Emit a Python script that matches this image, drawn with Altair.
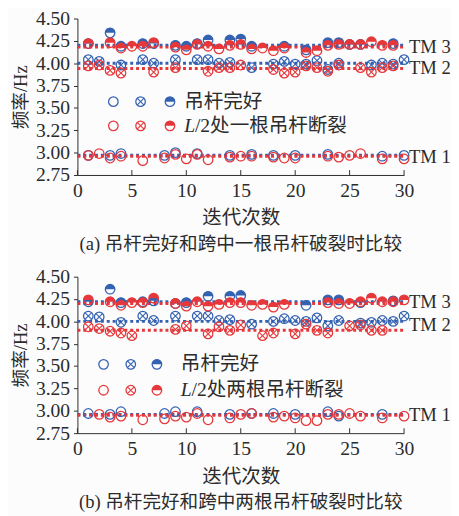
import altair as alt
import pandas as pd

BLUE = "#3462b2"
RED = "#e6373a"
INK = "#2b2b2b"
FONT = "Liberation Serif, Noto Sans CJK SC"

X_TICKS = [0, 5, 10, 15, 20, 25, 30]
Y_TICKS = [2.75, 3.00, 3.25, 3.50, 3.75, 4.00, 4.25, 4.50]
X_DOMAIN = [0, 30]
Y_DOMAIN = [2.75, 4.50]
LINE_X = [0, 30]
TM_NAMES = ["TM 1", "TM 2", "TM 3"]

# ---------------- panel (a) ----------------
a_blue_tm1_x = [1, 3, 4, 8, 9, 11, 14, 16, 18, 20, 23, 28, 30]
a_blue_tm1_y = [2.97, 2.97, 2.99, 2.97, 3.00, 2.99, 2.97, 2.98, 2.97, 2.97, 2.98, 2.96, 2.97]
a_red_tm1_x = [1, 2, 3, 4, 6, 8, 9, 10, 11, 12, 14, 15, 16, 18, 19, 20, 23, 24, 25, 26, 28, 30]
a_red_tm1_y = [2.97, 2.99, 2.94, 2.96, 2.91, 2.94, 2.98, 2.93, 2.98, 2.92, 2.95, 2.96, 2.96, 2.95,
               2.94, 2.94, 2.96, 2.95, 2.97, 2.99, 2.93, 2.93]
a_blue_tm2_x = [1, 2, 4, 6, 7, 9, 11, 12, 13, 14, 16, 18, 19, 20, 21, 22, 23, 24, 27, 28, 29, 30]
a_blue_tm2_y = [4.04, 4.02, 3.98, 4.04, 4.00, 4.04, 4.04, 4.04, 4.00, 4.01, 3.95, 3.99, 4.02, 3.99,
                3.99, 4.03, 3.93, 4.00, 3.98, 4.00, 3.99, 4.04]
a_red_tm2_x = [1, 2, 3, 4, 7, 9, 12, 13, 14, 15, 18, 19, 20, 21, 22, 23, 24, 26, 27, 28, 29]
a_red_tm2_y = [3.97, 3.98, 3.92, 3.89, 3.90, 3.95, 3.91, 3.95, 3.95, 3.98, 3.93, 3.89, 3.90, 3.97,
               3.95, 3.91, 3.98, 3.95, 3.90, 3.95, 3.97]
a_blue_tm3_x = [1, 3, 4, 6, 7, 9, 10, 11, 12, 14, 15, 16, 19, 21, 23, 24, 25, 26, 29]
a_blue_tm3_y = [4.22, 4.34, 4.19, 4.22, 4.22, 4.20, 4.19, 4.22, 4.26, 4.26, 4.27, 4.19, 4.19, 4.15,
                4.23, 4.23, 4.21, 4.21, 4.22]
a_red_tm3_x = [1, 3, 4, 5, 6, 7, 9, 10, 11, 12, 13, 14, 15, 16, 17, 18, 19, 21, 22, 23, 24, 25, 26,
               27, 28, 29]
a_red_tm3_y = [4.22, 4.23, 4.17, 4.19, 4.19, 4.23, 4.18, 4.15, 4.21, 4.19, 4.16, 4.20, 4.21, 4.16,
               4.17, 4.14, 4.17, 4.12, 4.14, 4.20, 4.21, 4.21, 4.21, 4.24, 4.20, 4.20]
a_blue_lines = [2.97, 4.00, 4.20]
a_red_lines = [2.96, 3.94, 4.18]
a_tm_label_y = [2.95, 3.95, 4.18]
a_leg_sym_x = [3.3, 5.8, 8.5]
a_leg_row_y = [3.57, 3.30]
a_leg_text_x = 9.8
a_leg_texts = ["吊杆完好", "/2处一根吊杆断裂"]
a_caption = "(a) 吊杆完好和跨中一根吊杆破裂时比较"

# ---------------- panel (b) ----------------
b_blue_tm1_x = [1, 3, 4, 8, 9, 11, 14, 16, 18, 20, 23, 24, 28]
b_blue_tm1_y = [2.97, 2.96, 2.99, 2.97, 2.99, 2.99, 2.96, 2.97, 2.97, 2.96, 2.99, 2.94, 2.96]
b_red_tm1_x = [2, 3, 4, 6, 8, 9, 10, 11, 12, 14, 15, 16, 18, 19, 20, 21, 22, 23, 24, 25, 26, 28, 30]
b_red_tm1_y = [2.96, 2.93, 2.94, 2.90, 2.91, 2.94, 2.93, 2.97, 2.90, 2.92, 2.96, 2.97, 2.93, 2.94,
               2.92, 2.89, 2.89, 2.96, 2.96, 2.97, 2.94, 2.92, 2.94]
b_blue_tm2_x = [1, 2, 4, 6, 7, 9, 11, 12, 13, 14, 16, 18, 19, 20, 21, 22, 23, 24, 26, 27, 28, 29, 30]
b_blue_tm2_y = [4.06, 4.05, 3.99, 4.06, 4.01, 4.06, 4.06, 4.06, 4.01, 4.02, 3.97, 4.00, 4.03, 4.01,
                4.00, 4.04, 3.95, 4.01, 3.98, 3.99, 4.01, 4.00, 4.06]
b_red_tm2_x = [1, 2, 3, 4, 5, 9, 10, 12, 13, 14, 15, 17, 18, 20, 21, 22, 23, 25, 26, 27, 28]
b_red_tm2_y = [3.94, 3.92, 3.89, 3.87, 3.84, 3.91, 3.95, 3.86, 3.94, 3.90, 3.96, 3.84, 3.87, 3.86,
               3.97, 3.90, 3.87, 3.95, 3.96, 3.90, 3.90]
b_blue_tm3_x = [1, 3, 4, 6, 7, 9, 10, 12, 14, 15, 21, 23, 24, 26, 29]
b_blue_tm3_y = [4.22, 4.36, 4.21, 4.22, 4.23, 4.20, 4.21, 4.28, 4.28, 4.29, 4.18, 4.24, 4.24, 4.21,
                4.23]
b_red_tm3_x = [1, 3, 4, 5, 6, 7, 9, 10, 11, 12, 13, 14, 15, 16, 17, 18, 19, 23, 24, 25, 26, 27, 28,
               29, 30]
b_red_tm3_y = [4.24, 4.22, 4.18, 4.21, 4.21, 4.26, 4.20, 4.17, 4.22, 4.17, 4.19, 4.21, 4.21, 4.18,
               4.19, 4.16, 4.19, 4.21, 4.20, 4.20, 4.22, 4.26, 4.22, 4.22, 4.24]
b_blue_lines = [2.96, 4.00, 4.22]
b_red_lines = [2.95, 3.90, 4.20]
b_tm_label_y = [2.95, 3.96, 4.21]
b_leg_sym_x = [2.4, 4.9, 7.3]
b_leg_row_y = [3.52, 3.23]
b_leg_text_x = 9.5
b_leg_texts = ["吊杆完好", "/2处两根吊杆断裂"]
b_caption = "(b) 吊杆完好和跨中两根吊杆破裂时比较"

W, H = 334, 160
SIZE = 95
CROSS = "M -0.72 -0.72 L 0.72 0.72 M -0.72 0.72 L 0.72 -0.72"
TOPHALF = "M -1 0 A 1 1 0 0 1 1 0 Z"


def enc_x():
    return alt.X("x:Q", scale=alt.Scale(domain=X_DOMAIN, nice=False, zero=False),
                 axis=alt.Axis(values=X_TICKS, title="迭代次数", ticks=False, grid=False,
                               labelPadding=6, titlePadding=8, labelFontSize=20,
                               titleFontSize=20, labelFont=FONT, titleFont=FONT,
                               titleFontWeight="normal", labelColor=INK, titleColor=INK,
                               domainColor=INK, labelFlush=False))


def enc_y():
    return alt.Y("y:Q", scale=alt.Scale(domain=Y_DOMAIN, nice=False, zero=False),
                 axis=alt.Axis(values=Y_TICKS, format=".2f", title="频率/Hz", tickSize=4,
                               tickColor=INK, grid=False, labelPadding=4, titlePadding=5,
                               labelFontSize=20, titleFontSize=19, labelFont=FONT,
                               titleFont=FONT, titleFontWeight="normal", labelColor=INK,
                               titleColor=INK, domainColor=INK, labelFlush=False))


def markers(xs, ys, color, kind):
    df = pd.DataFrame({"x": xs, "y": ys})
    base = alt.Chart(df)
    layers = [base.mark_point(shape="circle", filled=False, size=SIZE, strokeWidth=1.3,
                              color=color, opacity=1).encode(x=enc_x(), y=enc_y())]
    if kind == "cross":
        layers.append(base.mark_point(shape=CROSS, filled=False, size=SIZE, strokeWidth=1.1,
                                      color=color, opacity=1).encode(x=enc_x(), y=enc_y()))
    if kind == "half":
        layers.append(base.mark_point(shape=TOPHALF, filled=True, size=SIZE, strokeWidth=0,
                                      color=color, opacity=1).encode(x=enc_x(), y=enc_y()))
    return layers


def panel(series, blue_lines, red_lines, tm_y, leg_x, leg_y, leg_tx, leg_texts, caption):
    layers = []
    for vals, col in ((blue_lines, BLUE), (red_lines, RED)):
        ldf = pd.DataFrame({"x": [LINE_X[0]] * 3, "x2": [LINE_X[1]] * 3, "y": vals})
        layers.append(alt.Chart(ldf).mark_rule(color=col, strokeWidth=3, strokeDash=[3, 3])
                      .encode(x=enc_x(), x2="x2:Q", y=enc_y()))
    tdf = pd.DataFrame({"x": X_TICKS})
    layers.append(alt.Chart(tdf).mark_rule(color=INK, strokeWidth=1)
                  .encode(x=enc_x(), y=alt.value(H), y2=alt.value(H - 5)))
    for xs, ys, col, kind in series:
        layers += markers(xs, ys, col, kind)
    kinds = ["open", "cross", "half"]
    for row, col in enumerate((BLUE, RED)):
        for i, k in enumerate(kinds):
            layers += markers([leg_x[i]], [leg_y[row]], col, k)
    ldf1 = pd.DataFrame({"x": [leg_tx], "y": [leg_y[0]], "t": [leg_texts[0]]})
    layers.append(alt.Chart(ldf1).mark_text(align="left", baseline="middle", font=FONT,
                                            fontSize=20, color=INK)
                  .encode(x=enc_x(), y=enc_y(), text="t:N"))
    ldfL = pd.DataFrame({"x": [leg_tx], "y": [leg_y[1]], "t": ["L"]})
    layers.append(alt.Chart(ldfL).mark_text(align="left", baseline="middle", font=FONT,
                                            fontSize=20, fontStyle="italic", color=INK)
                  .encode(x=enc_x(), y=enc_y(), text="t:N"))
    ldf2 = pd.DataFrame({"x": [leg_tx], "y": [leg_y[1]], "t": [leg_texts[1]]})
    layers.append(alt.Chart(ldf2).mark_text(align="left", baseline="middle", font=FONT,
                                            fontSize=20, dx=11, color=INK)
                  .encode(x=enc_x(), y=enc_y(), text="t:N"))
    tmdf = pd.DataFrame({"x": [LINE_X[1]] * 3, "y": tm_y, "t": TM_NAMES})
    layers.append(alt.Chart(tmdf).mark_text(align="left", baseline="middle", font=FONT,
                                            fontSize=19, dx=5, color=INK)
                  .encode(x=enc_x(), y=enc_y(), text="t:N"))
    return alt.layer(*layers).properties(
        width=W, height=H,
        title=alt.TitleParams(caption, orient="bottom", anchor="middle", fontSize=19, font=FONT,
                              fontWeight="normal", color=INK, offset=8))


series_a = [
    (a_blue_tm1_x, a_blue_tm1_y, BLUE, "open"), (a_blue_tm2_x, a_blue_tm2_y, BLUE, "cross"),
    (a_blue_tm3_x, a_blue_tm3_y, BLUE, "half"),
    (a_red_tm1_x, a_red_tm1_y, RED, "open"), (a_red_tm2_x, a_red_tm2_y, RED, "cross"),
    (a_red_tm3_x, a_red_tm3_y, RED, "half"),
]
series_b = [
    (b_blue_tm1_x, b_blue_tm1_y, BLUE, "open"), (b_blue_tm2_x, b_blue_tm2_y, BLUE, "cross"),
    (b_blue_tm3_x, b_blue_tm3_y, BLUE, "half"),
    (b_red_tm1_x, b_red_tm1_y, RED, "open"), (b_red_tm2_x, b_red_tm2_y, RED, "cross"),
    (b_red_tm3_x, b_red_tm3_y, RED, "half"),
]

pa = panel(series_a, a_blue_lines, a_red_lines, a_tm_label_y, a_leg_sym_x, a_leg_row_y,
           a_leg_text_x, a_leg_texts, a_caption)
pb = panel(series_b, b_blue_lines, b_red_lines, b_tm_label_y, b_leg_sym_x, b_leg_row_y,
           b_leg_text_x, b_leg_texts, b_caption)

chart = alt.vconcat(pa, pb, spacing=13).properties(
    padding={"left": 4, "top": -5, "right": 0, "bottom": 0}, background="#fcfcfc"
).configure_view(stroke=None).configure_title(font=FONT)

chart.save("out.html", embed_options={"renderer": "svg", "actions": False})
